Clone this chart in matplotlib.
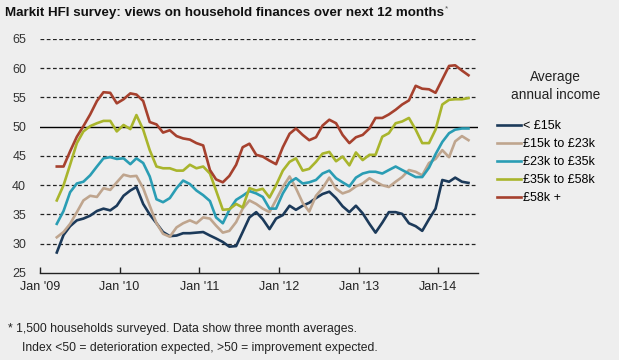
import matplotlib
matplotlib.use("Agg")
import matplotlib.pyplot as plt
import pandas as pd

plt.rcParams['font.family'] = ['Liberation Sans', 'DejaVu Sans']

# monthly index readings, Mar 2009 - May 2014 (three month averages)
months = pd.date_range('2009-03-01', periods=63, freq='MS') + pd.Timedelta(days=18)

under_15k = [28.5, 31.5, 33.0, 34.0, 34.3, 34.8, 35.6, 36.0, 35.7, 36.5,
             38.2, 39.1, 39.7, 36.8, 35.0, 33.5, 32.0, 31.3, 31.4, 31.8,
             31.8, 31.9, 32.0, 31.4, 30.9, 30.3, 29.5, 29.6, 32.0, 34.5,
             35.4, 34.2, 32.5, 34.3, 34.9, 36.5, 35.8, 36.5, 37.0, 37.8,
             38.5, 38.9, 37.8, 36.4, 35.4, 36.5, 35.2, 33.4, 31.9, 33.6,
             35.4, 35.4, 35.1, 33.5, 33.0, 32.2, 34.2, 36.0, 40.9, 40.6,
             41.3, 40.6, 40.4]
k15_23 = [31.1, 32.0, 33.4, 35.4, 37.4, 38.2, 38.0, 39.5, 39.2, 40.5,
          41.8, 41.5, 41.6, 39.5, 36.5, 33.5, 31.7, 31.2, 32.8, 33.5,
          34.0, 33.5, 34.5, 34.3, 33.1, 31.9, 32.2, 33.7, 36.0, 37.4,
          36.8, 36.0, 35.4, 37.5, 39.7, 41.5, 39.5, 37.0, 35.5, 38.2,
          39.5, 41.3, 39.4, 38.6, 39.0, 39.8, 40.3, 41.2, 40.6, 40.0,
          39.7, 40.6, 41.4, 42.6, 42.3, 41.7, 43.8, 44.5, 46.0, 44.8,
          47.5, 48.4, 47.7]
k23_35 = [33.4, 35.6, 38.8, 40.3, 40.6, 41.7, 43.2, 44.6, 44.8, 44.5,
          44.6, 43.6, 44.6, 43.8, 41.5, 37.6, 37.1, 37.8, 39.5, 40.8,
          40.2, 39.1, 38.3, 37.3, 34.5, 33.5, 35.8, 37.5, 38.2, 39.0,
          38.6, 38.0, 36.0, 36.0, 38.6, 40.5, 41.2, 40.3, 40.5, 40.9,
          42.0, 42.5, 41.2, 40.5, 39.8, 41.3, 42.0, 42.3, 42.3, 42.0,
          42.6, 43.2, 42.6, 42.0, 41.4, 41.4, 43.0, 45.3, 47.4, 48.9,
          49.5, 49.7, 49.7]
k35_58 = [37.4, 40.0, 43.5, 47.2, 49.2, 50.1, 50.6, 51.0, 51.0, 49.2,
          50.3, 49.6, 52.0, 49.5, 46.0, 43.2, 42.9, 42.9, 42.5, 42.5,
          43.5, 42.9, 43.2, 42.0, 39.1, 35.8, 35.9, 36.8, 36.2, 39.5,
          39.1, 39.4, 37.9, 40.0, 42.5, 44.0, 44.6, 42.5, 42.8, 44.0,
          45.4, 45.7, 44.1, 44.9, 43.4, 45.6, 44.3, 45.2, 45.2, 48.3,
          48.9, 50.6, 50.9, 51.5, 49.5, 47.2, 47.2, 49.5, 53.8, 54.6,
          54.7, 54.7, 54.9]
over_58k = [43.2, 43.2, 45.8, 48.3, 50.1, 52.1, 54.4, 55.9, 55.8, 54.0,
            54.7, 55.7, 55.5, 54.4, 50.8, 50.4, 49.0, 49.4, 48.4, 48.0,
            47.8, 47.2, 46.8, 42.6, 41.0, 40.5, 41.6, 43.5, 46.5, 47.1,
            45.2, 44.9, 44.2, 43.6, 46.5, 48.8, 49.7, 48.6, 47.7, 48.2,
            50.2, 51.2, 50.6, 48.6, 47.2, 48.2, 48.6, 49.7, 51.5, 51.5,
            52.1, 52.9, 53.8, 54.5, 57.0, 56.5, 56.4, 55.8, 58.1, 60.4,
            60.5, 59.6, 58.8]

series = [under_15k, k15_23, k23_35, k35_58, over_58k]
labels = ['< £15k', '£15k to £23k', '£23k to £35k', '£35k to £58k', '£58k +']
colors = ['#1c3a5a', '#bfa58e', '#2a9db4', '#a9b52c', '#a6412e']

yticks = [25, 30, 35, 40, 45, 50, 55, 60, 65]
xtick_labels = ["Jan '09", "Jan '10", "Jan '11", "Jan '12", "Jan '13", "Jan-14"]
xtick_dates = pd.to_datetime(['2009-01-01', '2010-01-01', '2011-01-01',
                              '2012-01-01', '2013-01-01', '2014-01-01'])

bg = '#eeeeee'
fig = plt.figure(figsize=(6.19, 3.6), dpi=100, facecolor=bg)
ax = fig.add_axes([0.0646, 0.2417, 0.7074, 0.65])
ax.set_facecolor(bg)

# gridlines: dashed, with a solid 50 line
for y in yticks[1:]:
    if y == 50:
        ax.axhline(y, color='black', lw=1.0, zorder=1)
    else:
        ax.axhline(y, color='#222222', lw=0.9, ls=(0, (3, 2)), zorder=1)

for vals, lab, col in zip(series, labels, colors):
    ax.plot(months, vals, color=col, lw=1.9, label=lab, zorder=3)

ax.set_ylim(25, 65)
ax.set_xlim(pd.Timestamp('2009-01-01'), pd.Timestamp('2014-07-01'))
ax.set_yticks(yticks)
ax.set_xticks(xtick_dates)
ax.set_xticklabels(xtick_labels)
for s in ['top', 'right', 'left']:
    ax.spines[s].set_visible(False)
ax.spines['bottom'].set_color('#222222')
ax.spines['bottom'].set_linewidth(1.0)
ax.tick_params(axis='y', length=0, pad=10, labelsize=9, labelcolor='#333333')
ax.tick_params(axis='x', direction='in', length=4, width=1, color='#222222',
               pad=6, labelsize=9, labelcolor='#222222')

# legend, with its two-line heading set as separate text
leg = fig.legend(loc='upper left', bbox_to_anchor=(0.803, 0.666), frameon=False,
                 fontsize=9, handlelength=1.9, handletextpad=0.15,
                 labelspacing=0.48, borderaxespad=0.0, borderpad=0.0)
fig.text(0.897, 0.761, 'Average\nannual income', fontsize=9.8, ha='center',
         va='center', linespacing=1.4, color='#222222')

title = fig.text(0.008, 0.965,
                 'Markit HFI survey: views on household finances over next 12 months',
                 fontsize=9.6, fontweight='bold', va='center', ha='left', color='#111111')
fig.canvas.draw()
bb = title.get_window_extent().transformed(fig.transFigure.inverted())
fig.text(bb.x1 + 0.002, 0.975, '*', fontsize=6, va='center', color='#555555')

fig.text(0.013, 0.086, '* 1,500 households surveyed. Data show three month averages.',
         fontsize=8.8, va='center', color='#222222')
fig.text(0.035, 0.033, 'Index <50 = deterioration expected, >50 = improvement expected.',
         fontsize=8.7, va='center', color='#222222')

fig.savefig('out.png', dpi=100, facecolor=bg)
